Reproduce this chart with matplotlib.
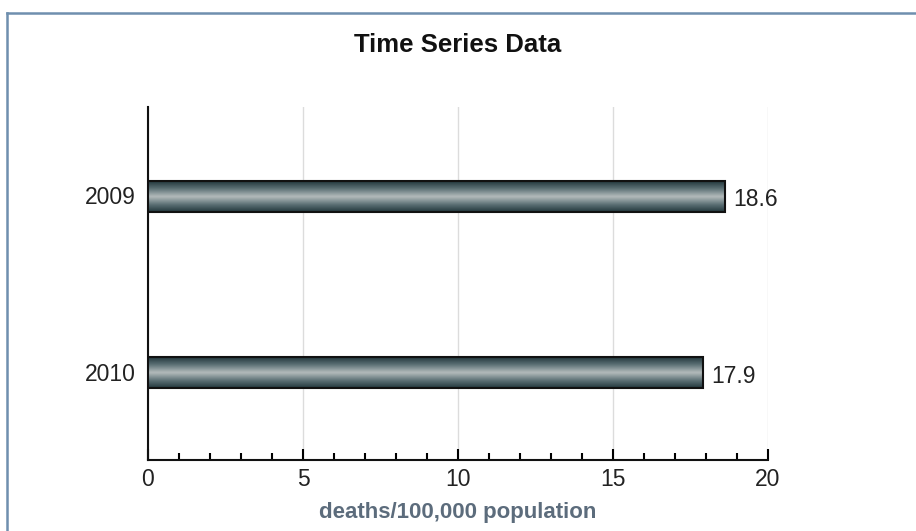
import numpy as np
import matplotlib.pyplot as plt
from matplotlib.colors import LinearSegmentedColormap
from matplotlib.lines import Line2D

plt.rcParams['font.family'] = ['Liberation Sans', 'DejaVu Sans']

years = ['2009', '2010']
rates = [18.6, 17.9]
x_ticks = [0, 5, 10, 15, 20]

fig = plt.figure(figsize=(9.16, 5.31), dpi=100)
ax = fig.add_axes([148/916, 1-460/531, 620/916, 353/531])

## gradient for the bars: dark edges, light middle
cmap = LinearSegmentedColormap.from_list('bar', ['#23383d', '#5f7378', '#b4bcbc', '#5f7378', '#23383d'])
grad = np.linspace(0, 1, 64).reshape(-1, 1)

ypos = np.arange(len(years))
h = 0.175
for y, v in zip(ypos, rates):
	ax.imshow(grad, cmap=cmap, aspect='auto', extent=[0, v, y+h/2+0.005, y-h/2+0.005], zorder=3, interpolation='bicubic')
	ax.add_patch(plt.Rectangle((0, y-h/2+0.005), v, h, fill=False, edgecolor='#111111', lw=1.5, zorder=4))
	ax.text(v+0.28, y+0.01, '%.1f' % v, va='center_baseline', ha='left', fontsize=16.5, color='#222222')

ax.set_xlim(0, 20)
ax.set_ylim(1.5, -0.5)
ax.set_yticks(ypos)
ax.set_yticklabels(years)
ax.set_xticks(x_ticks)
ax.set_xticks(np.arange(0, 21, 1), minor=True)
ax.xaxis.grid(True, color='#dcdcdc', lw=1, zorder=0)
ax.set_axisbelow(True)

for s in ['top', 'right']:
	ax.spines[s].set_visible(False)
for s in ['left', 'bottom']:
	ax.spines[s].set_linewidth(1.5)
	ax.spines[s].set_color('#111111')

ax.tick_params(axis='x', which='major', direction='in', length=8, width=1.5, labelsize=16.5, pad=6, labelcolor='#222222')
ax.tick_params(axis='x', which='minor', direction='in', length=5, width=1.5)
ax.tick_params(axis='y', length=0, labelsize=16.5, pad=9, labelcolor='#222222')

ax.set_xlabel('deaths/100,000 population', fontsize=16, fontweight='bold', color='#5c6c7c', labelpad=8)
fig.text(0.5, 1-45/531, 'Time Series Data', ha='center', va='center', fontsize=18.5, fontweight='bold', color='#111111')

## frame lines at the top and left
fig.add_artist(Line2D([7/916, 1], [1-12.5/531, 1-12.5/531], color='#6f8fae', lw=1.8))
fig.add_artist(Line2D([7/916, 7/916], [0, 1-12.5/531], color='#6f8fae', lw=1.8))

fig.savefig('out.png', dpi=100)
